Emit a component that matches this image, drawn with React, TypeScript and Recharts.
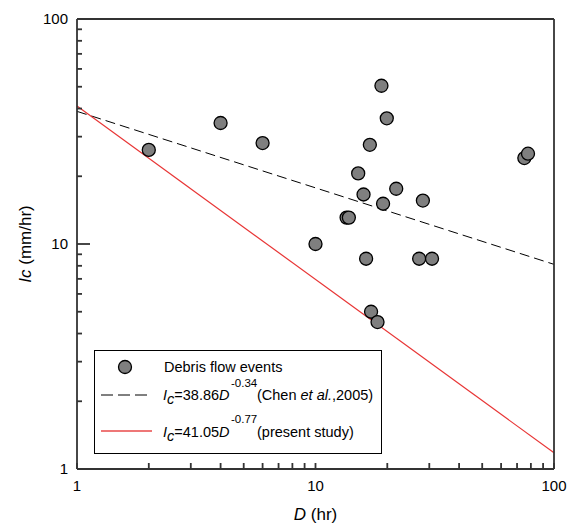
import React from "react";
import {
  ComposedChart,
  XAxis,
  YAxis,
  Line,
  Scatter,
  Legend,
} from "recharts";

// Debris flow events: duration D (hr) and critical rainfall intensity Ic (mm/hr)
const eventD = [2, 4, 6, 18.9, 19.9, 16.9, 15.1, 15.9, 19.2, 21.8, 28.2, 13.5, 13.8, 10, 16.3, 27.2, 30.8, 17.1, 18.2, 75.1, 77.8];
const eventIc = [26.2, 34.5, 28.1, 50.5, 36.2, 27.6, 20.6, 16.6, 15.1, 17.6, 15.6, 13.1, 13.1, 10.0, 8.6, 8.6, 8.6, 5.0, 4.5, 24.1, 25.2];

// Threshold lines (endpoints on log-log axes)
const chenD = [1, 100];
const chenIc = [38.86, 8.12];
const presentD = [1, 100];
const presentIc = [41.05, 1.18];

// Axis ticks
const logTicks = [1, 2, 3, 4, 5, 6, 7, 8, 9, 10, 20, 30, 40, 50, 60, 70, 80, 90, 100];
const majorTicks = [1, 10, 100];

const events = eventD.map((d, i) => ({ D: d, Ic: eventIc[i] }));
const chenData = chenD.map((d, i) => ({ D: d, Ic: chenIc[i] }));
const presentData = presentD.map((d, i) => ({ D: d, Ic: presentIc[i] }));

const FONT = "'Liberation Sans', Arial, Helvetica, sans-serif";
const AXIS = "#333333";
const TW = 1.8;

const renderBottomTick = (props: any) => {
  const { x, y, payload } = props;
  const major = majorTicks.includes(payload.value);
  const nx = Number(x);
  const ny = Number(y);
  return (
    <g>
      <rect x={nx - TW / 2} y={ny - 6} width={TW} height={6} fill={AXIS} stroke="none" />
      {major && (
        <text x={nx} y={ny + 22} textAnchor="middle" fontSize={15} fontFamily={FONT} fill="#000" stroke="none">
          {payload.value}
        </text>
      )}
    </g>
  );
};

const renderTopTick = (props: any) => {
  const { x, y } = props;
  const nx = Number(x);
  const ny = Number(y);
  return (
    <g>
      <rect x={nx - TW / 2} y={ny} width={TW} height={6} fill={AXIS} stroke="none" />
    </g>
  );
};

const renderLeftTick = (props: any) => {
  const { x, y, payload } = props;
  const major = majorTicks.includes(payload.value);
  const nx = Number(x);
  const ny = Number(y);
  const len = major ? 13 : 5;
  return (
    <g>
      <rect x={nx} y={ny - TW / 2} width={len} height={TW} fill={AXIS} stroke="none" />
      {major && (
        <text x={nx - 9} y={ny} dy="0.36em" textAnchor="end" fontSize={15} fontFamily={FONT} fill="#000" stroke="none">
          {payload.value}
        </text>
      )}
    </g>
  );
};

const renderRightTick = (props: any) => {
  const { x, y, payload } = props;
  const major = majorTicks.includes(payload.value);
  const nx = Number(x);
  const ny = Number(y);
  const len = major ? 13 : 5;
  return (
    <g>
      <rect x={nx - len} y={ny - TW / 2} width={len} height={TW} fill={AXIS} stroke="none" />
    </g>
  );
};

const EventDot = (props: any) => {
  const { cx, cy } = props;
  if (cx == null || cy == null) return <g />;
  return <circle cx={cx} cy={cy} r={6.5} fill="#7f7f7f" stroke="#000" strokeWidth={1.3} />;
};

const XTitle = (props: any) => {
  const { viewBox } = props;
  const cx = viewBox.x + viewBox.width / 2;
  return (
    <text x={cx} y={viewBox.y + 51} textAnchor="middle" fontSize={17} fontFamily={FONT} fill="#000">
      <tspan fontStyle="italic">D</tspan>
      <tspan> (hr)</tspan>
    </text>
  );
};

const YTitle = (props: any) => {
  const { viewBox } = props;
  const cy = viewBox.y + viewBox.height / 2;
  const x = 31;
  return (
    <text
      x={x}
      y={cy}
      textAnchor="middle"
      fontSize={17}
      fontFamily={FONT}
      fill="#000"
      transform={`rotate(-90, ${x}, ${cy})`}
    >
      <tspan fontStyle="italic">Ic</tspan>
      <tspan> (mm/hr)</tspan>
    </text>
  );
};

const LegendBox = () => {
  const fs = 14.5;
  const sup = 11.5;
  return (
    <svg width={289} height={105} style={{ display: "block" }}>
      <rect x={0.5} y={0.5} width={287} height={103} fill="#fff" stroke="#000" strokeWidth={1} />
      <circle cx={31} cy={17} r={6.5} fill="#7f7f7f" stroke="#000" strokeWidth={1.3} />
      <text x={70} y={22} fontSize={fs} fontFamily={FONT} fill="#000">
        Debris flow events
      </text>
      <line x1={7} x2={54} y1={45} y2={45} stroke="#000" strokeWidth={1} strokeDasharray="12 5" />
      <text x={69} y={50} fontSize={fs} fontFamily={FONT} fill="#000">
        <tspan fontStyle="italic">I</tspan>
        <tspan fontStyle="italic" dy={4}>c</tspan>
        <tspan dy={-4}>=38.86</tspan>
        <tspan fontStyle="italic">D</tspan>
      </text>
      <text x={137} y={37} fontSize={sup} fontFamily={FONT} fill="#000">
        -0.34
      </text>
      <text x={163} y={50} fontSize={fs} fontFamily={FONT} fill="#000">
        <tspan>(Chen </tspan>
        <tspan fontStyle="italic">et al.</tspan>
        <tspan>,2005)</tspan>
      </text>
      <line x1={7} x2={58} y1={81} y2={81} stroke="#e84a4a" strokeWidth={1.6} />
      <text x={69} y={87} fontSize={fs} fontFamily={FONT} fill="#000">
        <tspan fontStyle="italic">I</tspan>
        <tspan fontStyle="italic" dy={4}>c</tspan>
        <tspan dy={-4}>=41.05</tspan>
        <tspan fontStyle="italic">D</tspan>
      </text>
      <text x={137} y={73} fontSize={sup} fontFamily={FONT} fill="#000">
        -0.77
      </text>
      <text x={163} y={87} fontSize={fs} fontFamily={FONT} fill="#000">
        (present study)
      </text>
    </svg>
  );
};

export default function App() {
  return (
    <div style={{ position: "absolute", left: 0, top: 0, width: 576, height: 524, background: "#fff" }}>
      <ComposedChart
        width={576}
        height={524}
        margin={{ top: 18, right: 0, bottom: 0, left: 0 }}
      >
        <XAxis
          xAxisId="x"
          dataKey="D"
          type="number"
          scale="log"
          domain={[1, 100]}
          ticks={logTicks}
          interval={0}
          height={55}
          tickSize={0}
          tickMargin={0}
          tickLine={false}
          tick={renderBottomTick}
          axisLine={{ stroke: AXIS, strokeWidth: TW }}
          label={<XTitle />}
        />
        <XAxis
          xAxisId="xt"
          orientation="top"
          type="number"
          scale="log"
          domain={[1, 100]}
          ticks={logTicks}
          interval={0}
          height={1}
          tickSize={0}
          tickMargin={0}
          tickLine={false}
          tick={renderTopTick}
          axisLine={{ stroke: AXIS, strokeWidth: TW }}
        />
        <YAxis
          yAxisId="y"
          dataKey="Ic"
          type="number"
          scale="log"
          domain={[1, 100]}
          ticks={logTicks}
          interval={0}
          width={77}
          tickSize={0}
          tickMargin={0}
          tickLine={false}
          tick={renderLeftTick}
          axisLine={{ stroke: AXIS, strokeWidth: TW }}
          label={<YTitle />}
        />
        <YAxis
          yAxisId="yr"
          orientation="right"
          type="number"
          scale="log"
          domain={[1, 100]}
          ticks={logTicks}
          interval={0}
          width={22}
          tickSize={0}
          tickMargin={0}
          tickLine={false}
          tick={renderRightTick}
          axisLine={{ stroke: AXIS, strokeWidth: TW }}
        />
        <Line
          xAxisId="x"
          yAxisId="y"
          data={chenData}
          dataKey="Ic"
          type="linear"
          stroke="#000"
          strokeWidth={1}
          strokeDasharray="10 5"
          dot={false}
          activeDot={false}
          isAnimationActive={false}
          legendType="none"
        />
        <Line
          xAxisId="x"
          yAxisId="y"
          data={presentData}
          dataKey="Ic"
          type="linear"
          stroke="#e83535"
          strokeWidth={1.2}
          dot={false}
          activeDot={false}
          isAnimationActive={false}
          legendType="none"
        />
        <Scatter
          xAxisId="x"
          yAxisId="y"
          data={events}
          dataKey="Ic"
          shape={<EventDot />}
          isAnimationActive={false}
          legendType="none"
        />
        <Legend
          layout="horizontal"
          verticalAlign="middle"
          align="center"
          content={() => <LegendBox />}
          wrapperStyle={{ position: "absolute", left: 94, top: 350, width: 289, height: 105 }}
        />
      </ComposedChart>
    </div>
  );
}
